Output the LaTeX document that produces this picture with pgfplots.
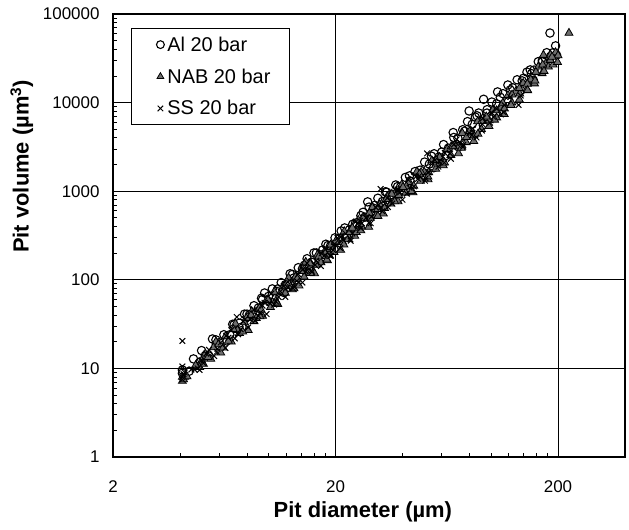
\documentclass[border=0pt]{standalone}
\usepackage{fontspec}
\setmainfont{Liberation Sans}
\usepackage{pgfplots}
\pgfplotsset{compat=1.18}
\begin{document}
\begin{tikzpicture}
\begin{axis}[
  xmode=log, ymode=log,
  scale only axis, width=512bp, height=443bp,
  xmin=2, xmax=400, ymin=1, ymax=100000,
  xtick={2,20,200}, xticklabels={2,20,200},
  ytick={1,10,100,1000,10000,100000},
  yticklabels={1,10,100,1000,10000,100000},
  minor xtick={4,6,8,10,12,14,16,18,40,60,80,100,120,140,160,180,400},
  minor ytick={2,3,4,5,6,7,8,9,20,30,40,50,60,70,80,90,200,300,400,500,600,700,800,900,2000,3000,4000,5000,6000,7000,8000,9000,20000,30000,40000,50000,60000,70000,80000,90000},
  xtick pos=bottom, ytick pos=left, tick align=inside,
  major tick length=0pt, minor tick length=4bp,
  tick style={black, line width=0.8bp},
  grid=major, major grid style={black, line width=0.9bp},
  axis line style={line width=2bp},
  /pgf/number format/assume math mode=true,
  tick label style={font=\fontsize{17}{20}\selectfont},
  xticklabel style={yshift=-20bp},
  yticklabel style={xshift=-10bp},
  xlabel={Pit diameter (µm)},
  ylabel={Pit volume (µm\textsuperscript{3})},
  label style={font=\fontsize{22}{26}\selectfont\bfseries},
  xlabel style={at={(axis description cs:0.488,-0.124)}, anchor=center},
  ylabel style={at={(axis description cs:-0.178,0.656)}, anchor=center, rotate=0},
  legend style={at={(axis description cs:0.035,0.968)}, anchor=north west,
    draw=black, line width=1bp, fill=white, font=\fontsize{20}{24}\selectfont,
    inner xsep=17bp, inner ysep=6bp, row sep=12bp,
    legend cell align=left},
  legend image code/.code={\path[draw=none,fill=none] (0bp,-2bp) rectangle (17bp,2bp); \draw[mark repeat=2,mark phase=2,#1,mark size=3.9bp,line width=0.8bp] plot coordinates {(6bp,0bp)(12bp,0bp)(18bp,0bp)};},
]
\coordinate (sw) at (rel axis cs:0,0);
\addplot[only marks, mark=o, mark size=4.2bp, mark options={draw=black, fill=none, line width=1.1bp}] coordinates {
(4.1,8.8)(4.1,9.6)(4.6,12.8)(4.9,11.7)(5.2,14)(5.6,21.5)(6.0,19.5)(6.3,24)(6.7,24)(7.0,31)(7.4,32.4)(7.8,41)(8.2,40)(8.6,51)(9.0,48)(9.3,62)(9.6,71)(10.0,65)(10.4,79)(10.9,74)(11.4,93)(11.9,88)(12.5,117)(13.0,105)(13.6,137)(14.2,133)(14.9,173)(15.6,158)(16.4,201)(17.2,191)(17.5,217)(18.1,252)(19.0,242)(19.9,298)(20.9,293)(22.0,385)(23.1,367)(24.6,437)(24.9,426)(26.0,530)(27.1,510)(27.9,758)(28.3,662)(29.6,644)(31.0,833)(32.5,766)(34.0,975)(35.6,913)(37.3,1176)(39.2,1121)(41.2,1431)(43.3,1305)(45.5,1664)(47.8,1573)(50.3,2133)(52.8,2024)(55.5,2646)(58.3,2430)(61.2,3360)(64.3,3060)(67.6,4590)(71.0,3960)(74.6,4940)(78.4,6100)(79.7,8040)(82.3,5690)(86.5,7100)(88,7630)(92.6,10900)(95.9,7620)(100.8,10150)(106,9690)(107,13200)(113.2,12600)(119,15800)(125,14700)(131,18100)(138,17600)(145,22100)(152,21200)(156,23300)(163,29000)(170,28800)(178,36600)(185,33200)(190,36600)(195,43700)(197,34400)(184,61000)
(4.4,9.3)(5.4,13.8)(6.5,20.4)(7.6,29.4)(8.9,40)(10.2,56)(11.7,72)(13.3,100)(15.2,127)(17.3,180)(19.7,221)(22.4,311)(25.5,387)(29.0,543)(33.0,673)(37.5,910)(42.7,1075)(48.6,1470)(55.2,1840)(62.8,2530)(71.4,3170)(81.2,4430)(92.3,5560)(105,7600)(119.5,10200)(136,13700)(155,17900)
(5.0,15.9)(5.8,21)(6.9,31.5)(8.0,41)(9.4,60)(11.0,79)(12.8,115)(14.5,146)(16.0,201)(18.5,244)(21.2,356)(23.9,424)(26.6,578)(30.0,692)(33.5,985)(38.0,1128)(43.0,1490)(48.0,1728)(54.0,2484)(60.0,2760)(68.0,4040)(76.0,4750)(85.0,6860)(96.0,8320)(110,11500)(122,13900)(140,18850)(150,23400)(170,30000)
};
\addlegendentry{Al 20 bar}
\addplot[only marks, mark=triangle*, mark size=4.6bp, mark options={draw=black, fill=black!57, line width=0.8bp}] coordinates {
(4.1,7.2)(4.1,8)(4.2,8)(4.8,10.3)(4.9,10.3)(5.2,14.6)(5.5,12.8)(5.8,20)(6.1,15)(6.4,23)(6.8,20)(7.1,32)(7.4,25)(7.8,33)(8.1,27)(8.4,44)(8.8,37)(9.1,48)(9.4,39)(9.8,59)(10.2,49)(10.6,73)(11.0,53)(11.4,75)(11.9,71)(12.3,105)(12.8,78)(13.2,108)(13.7,86)(14.2,133)(14.7,159)(15.1,119)(15.6,148)(16.1,118)(16.6,192)(17.2,157)(17.8,206)(18.4,165)(19.0,248)(19.7,205)(20.4,265)(21.1,217)(21.9,352)(22.7,285)(23.5,374)(24.4,313)(25.3,472)(26.2,397)(27.2,490)(28.2,394)(29.3,658)(30.4,533)(31.6,707)(32.8,558)(34.1,870)(35.4,722)(36.8,935)(38.2,767)(39.7,1188)(41.3,958)(42.9,1265)(44.6,967)(46.4,1663)(48.2,1305)(50.1,1650)(52.1,1360)(54.2,2220)(56.4,1786)(58.7,2420)(61.0,1950)(63.5,2990)(66.0,2550)(68.7,3330)(71.4,2670)(74.3,4525)(77.3,3560)(80.4,4550)(83.6,3670)(87.0,6120)(90.5,5010)(94.1,6655)(97.9,5410)(101.8,8220)(105.9,6780)(110.2,8925)(114.6,7400)(119.2,12100)(124,10000)(129,13300)(134,10800)(139.4,16600)(145,14200)(150.8,18200)(156.8,16400)(163,25400)(169.5,21400)(172,34400)(176,27500)(181,25400)(185,34700)(190,26800)(195,36800)(199,28600)(200,34000)(224,61000)
(4.3,8.1)(5.0,12.2)(5.35,13.4)(5.95,18.6)(6.6,20.4)(7.25,27)(7.95,37)(8.6,34)(9.25,46)(10.0,59)(10.8,58)(11.65,84)(12.55,84)(13.45,103)(14.45,108)(15.35,153)(16.35,147)(17.5,185)(18.7,191)(20.0,265)(21.5,268)(23.1,344)(24.8,344)(26.7,500)(28.7,498)(30.9,625)(33.2,645)(35.8,930)(38.5,898)(41.6,1134)(44.9,1150)(48.5,1635)(52.4,1634)(56.6,2040)(61.2,2160)(66.2,3190)(71.6,3190)(77.5,4060)(83.8,4250)(90.7,6160)(98.1,6290)(106,8140)(114.8,8560)(124.3,12270)(134.5,12600)(145.6,16270)(157.6,17640)(170.6,26700)(184.7,30200)
(4.15,7.5)(4.7,10.8)(5.1,11.2)(5.65,17.2)(6.25,17.1)(6.95,27.6)(7.65,26)(8.35,40)(9.15,38.5)(9.95,59)(10.9,55)(11.9,86)(13.0,80)(14.1,125)(15.4,119)(16.8,182)(18.3,168)(20.0,270)(21.8,249)(23.8,385)(26.0,360)(28.4,567)(31.0,524)(33.8,814)(36.9,765)(40.2,1111)(43.8,1000)(47.7,1562)(52.0,1462)(56.7,2244)(61.8,2100)(67.4,3245)(73.5,3070)(80.1,4740)(87.3,4430)(95.2,6940)(103.7,6390)(113,9900)(123,9370)(134,14500)(146,13760)(159,22100)(173,22700)(188,32800)
};
\addlegendentry{NAB 20 bar}
\addplot[only marks, mark=x, mark size=4bp, mark options={draw=black, line width=1bp}] coordinates {
(4.1,20.4)(4.1,10.5)(4.1,8.0)(4.1,7.5)(4.2,9.0)(4.8,10)(4.9,9.6)(5.1,11.5)(5.4,16.2)(5.7,13.8)(6.1,19.6)(6.4,17)(6.8,27)(7.2,38)(7.3,24.3)(7.7,34)(8.1,29)(8.6,46)(9.0,39)(9.4,51)(9.8,41)(10.3,70)(10.8,57)(11.3,74)(11.9,64)(12.4,98)(13.0,84)(13.6,116)(14.2,93)(14.9,154)(15.6,127)(16.4,165)(17.2,143)(18.0,221)(18.9,187)(19.8,254)(20.4,296)(21.0,228)(22.2,332)(23.4,276)(24.7,454)(26.0,382)(27.4,499)(28.8,435)(30.3,659)(31.9,1060)(32.5,594)(34.2,836)(36.0,725)(38.0,1047)(40.0,800)(42.5,1344)(45.0,1134)(47.5,1480)(50.5,1312)(51.6,2670)(54.0,2116)(58.0,1892)(62.0,2706)(66.0,2320)(70.0,3840)(75.0,3330)(80.0,4515)(86.0,4040)(92.0,6670)(99.0,5940)(106.0,8525)(114.0,7780)(122.0,11550)(133.0,9400)(136.0,12000)
(4.5,9.7)(5.0,12.4)(5.9,16.6)(6.6,22.2)(7.5,27.6)(8.3,36)(9.2,42.7)(10.1,55)(11.1,64)(12.2,82)(13.4,97)(14.7,124)(16.2,147)(17.8,187)(19.5,217)(21.6,284)(23.8,333)(26.3,435)(29.0,516)(32.0,654)(35.3,774)(39.0,970)(43.0,1093)(47.0,1380)(52.5,1644)(58.5,2180)(65.5,2660)(73.0,3500)(82.0,4290)(91.5,5700)(102.5,6890)(115.0,9350)
(4.15,8.6)(4.65,9.7)(5.25,14.7)(5.85,15.4)(6.45,23.3)(7.05,21.8)(7.85,36)(8.7,34.4)(9.6,55)(10.6,52.5)(11.7,85)(12.9,80)(14.2,130)(15.7,123)(17.3,198)(19.1,187)(21.1,303)(23.3,288)(25.7,463)(28.3,439)(31.2,700)(34.4,662)(37.9,1014)(41.8,937)(46.1,1467)(50.8,1393)(56.0,2240)(61.7,2100)(68.0,3360)(75.0,3180)(82.6,5100)(91.0,4830)(100.3,7730)(110.5,7350)
};
\addlegendentry{SS 20 bar}
\end{axis}
\pgfresetboundingbox
\path (sw) ++(-113bp,-73bp) rectangle ++(629bp,530bp);
\end{tikzpicture}
\end{document}
